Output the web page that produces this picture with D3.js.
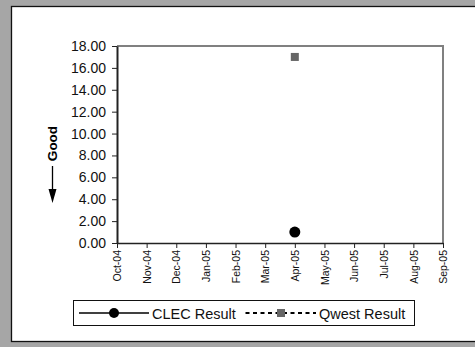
<!DOCTYPE html>
<html>
<head>
<meta charset="utf-8">
<script src="https://cdn.jsdelivr.net/npm/d3@7"></script>
<style>
  body { margin: 0; background: #a6a6a6; }
  svg { display: block; font-family: "Liberation Sans", Arial, sans-serif; }
</style>
</head>
<body>
<div class="chart"></div>
<script>
var months = ["Oct-04", "Nov-04", "Dec-04", "Jan-05", "Feb-05", "Mar-05",
  "Apr-05", "May-05", "Jun-05", "Jul-05", "Aug-05", "Sep-05"];
var clecResult = [null, null, null, null, null, null, 1.0, null, null, null, null, null];
var qwestResult = [null, null, null, null, null, null, 17.0, null, null, null, null, null];
var yTicks = [0, 2, 4, 6, 8, 10, 12, 14, 16, 18];

var svgWidth = 475;
var svgHeight = 347;

var margin = { top: 46, left: 117, right: 32, bottom: 104 };
var width = svgWidth - margin.left - margin.right;
var height = svgHeight - margin.top - margin.bottom;

var svg = d3.select(".chart")
  .append("svg")
  .attr("width", svgWidth)
  .attr("height", svgHeight);

// outer panel
svg.append("rect")
  .attr("x", 11.5).attr("y", 6.5)
  .attr("width", 470).attr("height", 335)
  .attr("fill", "white")
  .attr("stroke", "#111")
  .attr("stroke-width", 1.3);

var chartGroup = svg.append("g")
  .attr("transform", `translate(${margin.left}, ${margin.top})`);

var x = d3.scalePoint().domain(months).range([0, width]);
var y = d3.scaleLinear().domain([0, 18]).range([height, 0]);

// plot frame (top + right, gray)
chartGroup.append("path")
  .attr("d", `M0,0H${width}V${height}`)
  .attr("fill", "none")
  .attr("stroke", "#808080")
  .attr("stroke-width", 2);

var yAxis = chartGroup.append("g")
  .call(d3.axisLeft(y).tickValues(yTicks).tickFormat(d3.format(".2f")).tickSize(5).tickSizeOuter(0));
yAxis.select(".domain").attr("stroke", "#222").attr("stroke-width", 2);
yAxis.selectAll(".tick line").attr("stroke", "#222");
yAxis.selectAll("text")
  .attr("x", -11)
  .style("font-size", "14px")
  .attr("fill", "#111");

var xAxis = chartGroup.append("g")
  .attr("transform", `translate(0, ${height})`)
  .call(d3.axisBottom(x).tickSize(5).tickSizeOuter(0));
xAxis.select(".domain").attr("stroke", "#222").attr("stroke-width", 1.5);
xAxis.selectAll(".tick line").attr("stroke", "#222");
xAxis.selectAll("text")
  .attr("transform", "rotate(-90)")
  .attr("x", -7)
  .attr("y", 0)
  .attr("dy", "0.35em")
  .style("text-anchor", "end")
  .style("font-size", "10.5px")
  .attr("fill", "#111");

// series points
chartGroup.selectAll(".qwest")
  .data(qwestResult.map((v, i) => ({ m: months[i], v: v })).filter(d => d.v != null))
  .join("rect")
  .attr("class", "qwest")
  .attr("x", d => x(d.m) - 4)
  .attr("y", d => y(d.v) - 4)
  .attr("width", 8)
  .attr("height", 8)
  .attr("fill", "#666");

chartGroup.selectAll(".clec")
  .data(clecResult.map((v, i) => ({ m: months[i], v: v })).filter(d => d.v != null))
  .join("circle")
  .attr("class", "clec")
  .attr("cx", d => x(d.m))
  .attr("cy", d => y(d.v))
  .attr("r", 5.5)
  .attr("fill", "#000");

// "Good" indicator
svg.append("text")
  .attr("transform", "translate(57,143.5) rotate(-90)")
  .style("text-anchor", "middle")
  .style("font-size", "13.5px")
  .style("font-weight", "bold")
  .attr("fill", "#000")
  .text("Good");
svg.append("line")
  .attr("x1", 52.5).attr("x2", 52.5)
  .attr("y1", 166).attr("y2", 192)
  .attr("stroke", "#000").attr("stroke-width", 1.3);
svg.append("path")
  .attr("d", "M48.5,189L56.5,189L52.5,203Z")
  .attr("fill", "#000");

// legend
var legend = svg.append("g");
legend.append("rect")
  .attr("x", 73.5).attr("y", 300.5)
  .attr("width", 341).attr("height", 25)
  .attr("fill", "white")
  .attr("stroke", "#111");
legend.append("line")
  .attr("x1", 79).attr("x2", 149).attr("y1", 313).attr("y2", 313)
  .attr("stroke", "#000").attr("stroke-width", 1.3);
legend.append("circle")
  .attr("cx", 114).attr("cy", 313).attr("r", 5).attr("fill", "#000");
legend.append("text")
  .attr("x", 152).attr("y", 318.5)
  .style("font-size", "14.5px").attr("fill", "#111")
  .text("CLEC Result");
legend.append("line")
  .attr("x1", 245.5).attr("x2", 316).attr("y1", 313).attr("y2", 313)
  .attr("stroke", "#000").attr("stroke-width", 2)
  .attr("stroke-dasharray", "4,3.5");
legend.append("rect")
  .attr("x", 277).attr("y", 309).attr("width", 8).attr("height", 8).attr("fill", "#666");
legend.append("text")
  .attr("x", 319).attr("y", 318.5)
  .style("font-size", "14.5px").attr("fill", "#111")
  .text("Qwest Result");
</script>
</body>
</html>
